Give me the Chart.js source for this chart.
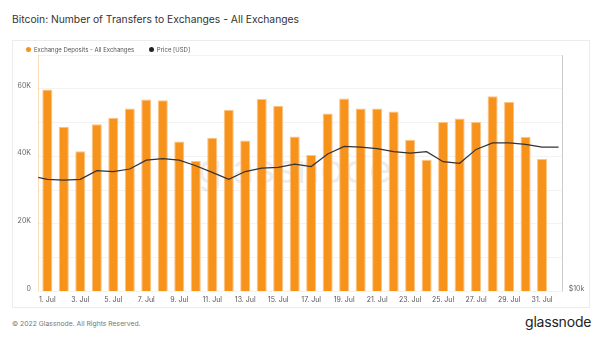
<!DOCTYPE html>
<html>
<head>
<meta charset="utf-8">
<script src="https://cdn.jsdelivr.net/npm/chart.js@4/dist/chart.umd.min.js"></script>
<style>
  body { margin: 0; width: 602px; height: 339px; background: #fff; position: relative; overflow: hidden; font-family: Inter, "Noto Sans", sans-serif; }
  #title { position: absolute; left: 12px; top: 13px; font-size: 10.3px; color: #333; white-space: nowrap; }
  #card { position: absolute; left: 12px; top: 40px; width: 578px; height: 268px; border: 1px solid #ececec; box-sizing: border-box; }
  #legend { position: absolute; left: 26px; top: 46px; font-size: 6px; color: #555; white-space: nowrap; }
  #legend span { display: inline-flex; align-items: center; margin-right: 13px; }
  #legend i { display: inline-block; width: 5px; height: 5px; border-radius: 50%; margin-right: 3px; }
  #footer { position: absolute; left: 12px; top: 319px; font-size: 6.8px; color: #777; white-space: nowrap; }
  #logo { position: absolute; left: 525px; top: 313px; font-size: 14px; color: #222; letter-spacing: -0.2px; }
</style>
</head>
<body>
<div id="title">Bitcoin: Number of Transfers to Exchanges - All Exchanges</div>
<div id="card"><canvas id="chart"></canvas></div>
<div id="legend">
  <span><i style="background:#f7931a"></i>Exchange Deposits - All Exchanges</span>
  <span><i style="background:#222"></i>Price [USD]</span>
</div>
<div id="footer">© 2022 Glassnode. All Rights Reserved.</div>
<div id="logo">glassnode</div>
<script>
// July 2022, one bar per day
const days = [1, 2, 3, 4, 5, 6, 7, 8, 9, 10, 11, 12, 13, 14, 15, 16,
  17, 18, 19, 20, 21, 22, 23, 24, 25, 26, 27, 28, 29, 30, 31];
const deposits = [59800, 48800, 41500, 49500, 51400, 54200, 56800, 56600,
  44400, 38600, 45500, 53800, 44700, 57000, 55000, 45900, 40400, 52700,
  57100, 54200, 54200, 53300, 44900, 39000, 50200, 51200, 50200, 57800,
  56100, 45800, 39200];

// price runs from 30 Jun (day 0) to 1 Aug (day 32)
const priceDays = [0, 1, 2, 3, 4, 5, 6, 7, 8, 9, 10, 11, 12, 13, 14, 15, 16,
  17, 18, 19, 20, 21, 22, 23, 24, 25, 26, 27, 28, 29, 30, 31, 32];
const price = [19700, 19300, 19200, 19300, 20300, 20200, 20500, 21600, 21800,
  21600, 20900, 20100, 19300, 20200, 20600, 20700, 21100, 20800, 22400,
  23400, 23300, 23100, 22700, 22500, 22700, 21400, 21200, 23000, 23900,
  23900, 23700, 23300, 23300];

const tickDays = [1, 3, 5, 7, 9, 11, 13, 15, 17, 19, 21, 23, 25, 27, 29, 31];
const tickLabels = ['1. Jul', '3. Jul', '5. Jul', '7. Jul', '9. Jul', '11. Jul',
  '13. Jul', '15. Jul', '17. Jul', '19. Jul', '21. Jul', '23. Jul', '25. Jul',
  '27. Jul', '29. Jul', '31. Jul'];

Chart.defaults.font.family = 'Inter';
Chart.defaults.animation = false;

const watermark = {
  id: 'watermark',
  beforeDatasetsDraw(chart) {
    const { ctx, chartArea } = chart;
    ctx.save();
    ctx.font = '40px Inter';
    ctx.fillStyle = 'rgba(0, 0, 0, 0.07)';
    ctx.textAlign = 'center';
    ctx.textBaseline = 'alphabetic';
    ctx.fillText('glassnode', (chartArea.left + chartArea.right) / 2 - 5, chartArea.top + 128);
    ctx.restore();
  }
};

// axis border lines (left faint orange, right grey)
const frameLines = {
  id: 'frameLines',
  afterDraw(chart) {
    const { ctx, chartArea } = chart;
    ctx.save();
    ctx.lineWidth = 1;
    ctx.strokeStyle = 'rgba(247, 147, 26, 0.3)';
    ctx.beginPath();
    ctx.moveTo(Math.round(chartArea.left) + 0.5, chartArea.top);
    ctx.lineTo(Math.round(chartArea.left) + 0.5, chartArea.bottom);
    ctx.stroke();
    ctx.strokeStyle = '#cccccc';
    ctx.beginPath();
    ctx.moveTo(Math.round(chartArea.right) + 0.5, chartArea.top);
    ctx.lineTo(Math.round(chartArea.right) + 0.5, chartArea.bottom);
    ctx.stroke();
    ctx.restore();
  }
};

const ctx = document.getElementById('chart').getContext('2d');
new Chart(ctx, {
  data: {
    datasets: [
      {
        type: 'line',
        label: 'Price [USD]',
        data: priceDays.map((d, i) => ({ x: d, y: price[i] })),
        xAxisID: 'x',
        yAxisID: 'priceAxis',
        borderColor: '#333',
        borderWidth: 1.2,
        pointRadius: 0,
        tension: 0,
        order: 0,
      },
      {
        type: 'bar',
        label: 'Exchange Deposits - All Exchanges',
        data: days.map((d, i) => ({ x: d, y: deposits[i] })),
        xAxisID: 'x',
        yAxisID: 'depAxis',
        backgroundColor: '#f7931a',
        borderColor: '#fcc487',
        borderWidth: 1,
        categoryPercentage: 1,
        barPercentage: 0.61,
        order: 1,
      },
    ],
  },
  options: {
    responsive: true,
    maintainAspectRatio: false,
    layout: { padding: { top: 14, left: 0, right: 0, bottom: 0 } },
    plugins: {
      legend: { display: false },
      tooltip: { enabled: false },
    },
    scales: {
      x: {
        type: 'linear',
        position: 'bottom',
        offset: false,
        min: 0.435,
        max: 32.19,
        grid: { display: false, drawTicks: false, offset: false },
        border: { display: false },
        afterBuildTicks: (axis) => {
          axis.ticks = tickDays.map((v) => ({ value: v }));
        },
        afterFit: (axis) => { axis.height = 15.5; },
        ticks: {
          autoSkip: false,
          maxRotation: 0,
          minRotation: 0,
          padding: 4,
          color: '#555',
          font: { size: 7 },
          callback: (v, i) => tickLabels[i],
        },
      },
      depAxis: {
        axis: 'y',
        type: 'linear',
        position: 'left',
        min: 0,
        max: 70000,
        afterFit: (axis) => { axis.width = 25; },
        grid: { color: '#f3f3f3', drawTicks: false },
        border: { display: false },
        ticks: {
          stepSize: 10000,
          padding: 7,
          labelOffset: -3,
          color: '#666',
          font: { size: 7 },
          callback: (v) => (v % 20000 === 0 ? (v === 0 ? '0' : v / 1000 + 'K') : ''),
        },
      },
      priceAxis: {
        axis: 'y',
        type: 'logarithmic',
        position: 'right',
        min: 10000,
        max: 40000,
        afterFit: (axis) => { axis.width = 27.3; },
        grid: { display: false, drawTicks: false },
        border: { display: false },
        afterBuildTicks: (axis) => {
          axis.ticks = [{ value: 10000 }];
        },
        ticks: {
          padding: 7,
          labelOffset: -3,
          color: '#666',
          font: { size: 7 },
          callback: () => '$10k',
        },
      },
    },
  },
  plugins: [watermark, frameLines],
});
</script>
</body>
</html>
